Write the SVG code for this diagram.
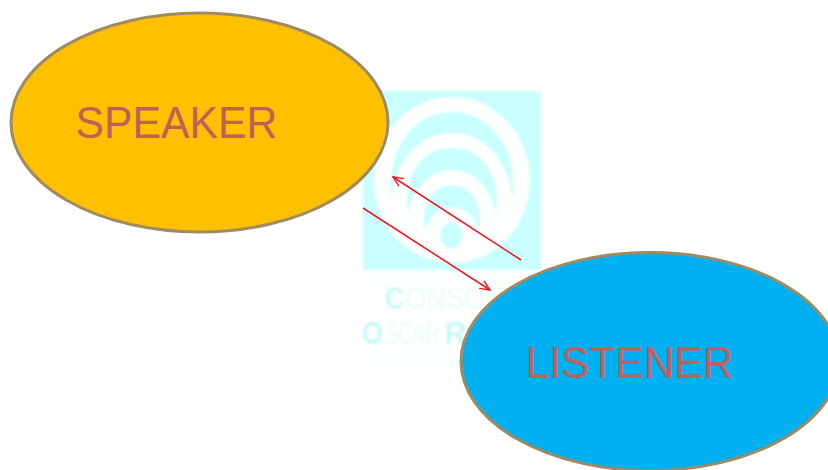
<svg xmlns="http://www.w3.org/2000/svg" width="828" height="470" viewBox="0 0 828 470">
<style>
.node{stroke:#a08a62;stroke-width:3}
.label{font-family:"Liberation Sans",Arial,sans-serif;fill:#c0605a;font-size:44px}
.band{fill:#caffff}
.wm{font-family:"Liberation Sans",Arial,sans-serif;fill:#e8fdfb;font-size:31px}
.wmb{font-family:"Liberation Sans",Arial,sans-serif;fill:#c8fbf6;font-weight:bold;font-size:31px}
.conn{fill:none;stroke:#f5141e;stroke-width:1.5}
</style>
<defs>
<marker id="arrow" markerUnits="userSpaceOnUse" markerWidth="14" markerHeight="12" refX="12" refY="6" orient="auto">
<path d="M2 1.500L12 6L2 10.500" fill="none" stroke="#f5141e" stroke-width="1.400"/>
</marker>
<filter id="soft" x="-5%" y="-5%" width="110%" height="110%"><feGaussianBlur stdDeviation="0.8"/></filter>
</defs>
<rect width="828" height="470" fill="#fff"/>
<g id="watermark" filter="url(#soft)">
<rect x="363" y="91" width="178" height="179" fill="#caffff"/>
<ellipse cx="452" cy="180" rx="78" ry="83" fill="#fdffff"/>
<path class="band" d="M391 200C386 140 420 112 452 112C484 112 518 140 513 200C508 160 485 133 452 133C419 133 396 160 391 200Z"/>
<path class="band" d="M408 215C402 170 425 148 452 148C479 148 502 170 496 215C492 190 475 170 452 170C429 170 412 190 408 215Z"/>
<path class="band" d="M425 232C420 200 435 185 452 185C469 185 484 200 479 232C476 218 468 208 452 208C436 208 428 218 425 232Z"/>
<ellipse cx="451.500" cy="235.500" rx="11" ry="13" fill="#caffff"/>
<rect x="360" y="276" width="180" height="1.500" fill="#eefefd"/>
<text class="wmb" transform="translate(385 309) scale(.85 1)">C</text>
<text class="wm" transform="translate(405 309) scale(.88 1)">ONSOR</text>
<text class="wmb" transform="translate(362 344) scale(.87 1)">O</text>
<text class="wm" transform="translate(385 344) scale(.63 1)">SCAR</text>
<text class="wmb" transform="translate(445 344) scale(.95 1)">RO</text>
<rect x="362" y="351" width="150" height="1.500" fill="#f2fefd"/>
<rect x="362" y="357" width="125" height="11" fill="#f8fefe"/>
</g>
<g id="connectors">
<path class="conn" d="M521 260L393 177" marker-end="url(#arrow)"/>
<path class="conn" d="M363 208L490 290" marker-end="url(#arrow)"/>
</g>
<g id="speaker">
<ellipse class="node" cx="199.500" cy="122.500" rx="188.500" ry="109.500" fill="#ffc000"/>
<text class="label" x="75.500" y="138" textLength="202" lengthAdjust="spacingAndGlyphs">SPEAKER</text>
</g>
<g id="listener">
<ellipse class="node" cx="650" cy="361.500" rx="189" ry="109" fill="#00b0f0"/>
<text class="label" x="525.500" y="378" textLength="208" lengthAdjust="spacingAndGlyphs">LISTENER</text>
</g>
</svg>
